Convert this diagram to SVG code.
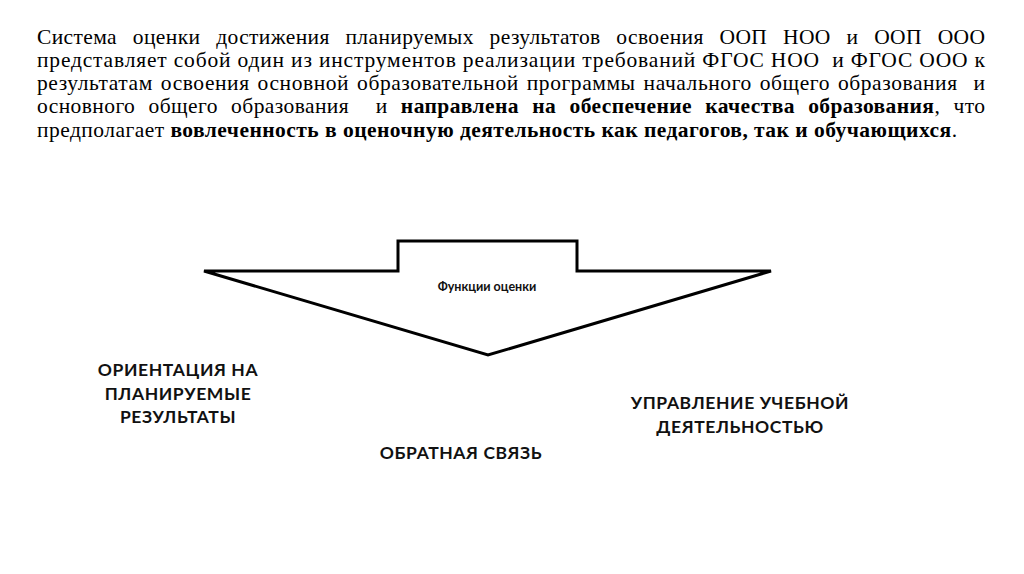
<svg xmlns="http://www.w3.org/2000/svg" width="1024" height="574" viewBox="0 0 1024 574">
<style>
.p{font-family:"Liberation Serif","Times New Roman",serif;font-size:21.5px;fill:#000}
.b{font-weight:bold}
.lbl{font-family:Lato,"Open Sans",sans-serif;font-weight:bold;font-size:17.5px;letter-spacing:0.6px;fill:#111;text-anchor:middle}
.small{font-family:Lato,"Open Sans",sans-serif;font-weight:bold;font-size:12.5px;fill:#111;text-anchor:middle}
</style>
<rect width="1024" height="574" fill="#fff"/>
<g id="paragraph">
<text class="p" x="37" y="44" textLength="948" lengthAdjust="spacing" word-spacing="10">Система оценки достижения планируемых результатов освоения ООП НОО и ООП ООО</text>
<text class="p" x="37" y="67" textLength="948" lengthAdjust="spacing" xml:space="preserve">представляет собой один из инструментов реализации требований ФГОС НОО  и ФГОС ООО к</text>
<text class="p" x="37" y="90" textLength="948" lengthAdjust="spacing" word-spacing="2" xml:space="preserve">результатам освоения основной образовательной программы начального общего образования  и</text>
<text class="p" x="37" y="113" textLength="948" lengthAdjust="spacing" word-spacing="7.5" xml:space="preserve">основного общего образования  и <tspan class="b">направлена на обеспечение качества образования</tspan>, что</text>
<text class="p" x="37" y="137" textLength="920" lengthAdjust="spacing">предполагает <tspan class="b">вовлеченность в оценочную деятельность как педагогов, так и обучающихся</tspan>.</text>
</g>
<g id="arrow">
<path d="M398,241 H577 V271 H771 L488,355 L204,271 H398 Z" fill="#fff" stroke="#000" stroke-width="3" stroke-linejoin="miter"/>
<text class="small" x="487" y="291">Функции оценки</text>
</g>
<g id="node-orientation">
<text class="lbl" x="178" y="376">ОРИЕНТАЦИЯ НА</text>
<text class="lbl" x="178" y="400">ПЛАНИРУЕМЫЕ</text>
<text class="lbl" x="178" y="423">РЕЗУЛЬТАТЫ</text>
</g>
<g id="node-feedback">
<text class="lbl" x="461" y="459">ОБРАТНАЯ СВЯЗЬ</text>
</g>
<g id="node-management">
<text class="lbl" x="740" y="409">УПРАВЛЕНИЕ УЧЕБНОЙ</text>
<text class="lbl" x="740" y="433">ДЕЯТЕЛЬНОСТЬЮ</text>
</g>
<g id="connectors"></g>
</svg>
